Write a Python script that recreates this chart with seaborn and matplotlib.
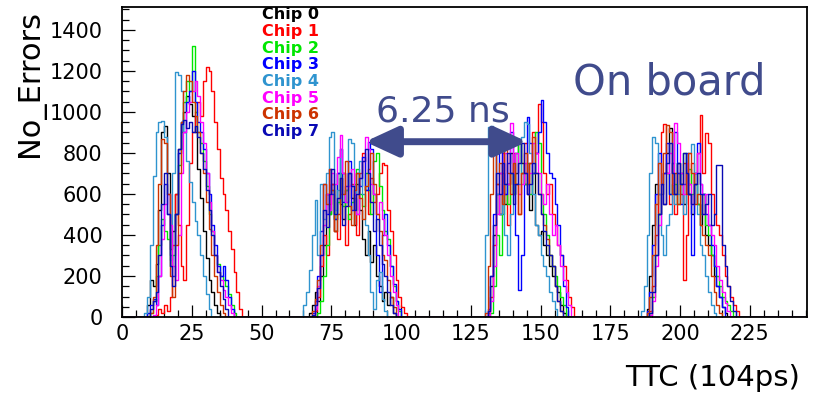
import numpy as np
import pandas as pd
import matplotlib
matplotlib.use("Agg")
import matplotlib.pyplot as plt
import seaborn as sns

# ------------------------------
# Data: error counts per TTC bin (1 bin = 104 ps)
# each chip has 4 peaks; *_start is the first bin of each listed peak
# ------------------------------
chips = ["Chip 0", "Chip 1", "Chip 2", "Chip 3", "Chip 4", "Chip 5", "Chip 6", "Chip 7"]
chip_colors = ["#000000", "#ff0000", "#00e600", "#0000ff", "#2f94cf", "#ff00ff", "#cc3300", "#0a0ab4"]

chip0_start = [9, 67, 131, 188]
chip0_counts = [
    [60, 180, 150, 260, 520, 900, 930, 700, 330, 420, 600, 820, 950, 1000, 1080, 1040, 980, 900, 720, 580, 420, 290, 180, 120, 60, 20, 0],
    [20, 60, 120, 80, 200, 350, 600, 500, 650, 420, 700, 550, 480, 620, 700, 580, 450, 650, 520, 380, 300, 420, 270, 350, 200, 150, 80, 120, 60, 100, 20, 0],
    [30, 150, 400, 600, 500, 700, 550, 650, 800, 600, 700, 850, 750, 650, 600, 520, 700, 450, 400, 420, 350, 300, 250, 200, 150, 120, 60, 20, 0],
    [40, 200, 450, 650, 500, 600, 700, 800, 920, 700, 600, 750, 650, 550, 700, 600, 500, 650, 550, 450, 600, 400, 350, 300, 200, 150, 100, 50, 20, 0],
]
chip1_start = [12, 69, 131, 189]
chip1_counts = [
    [10, 40, 20, 60, 30, 100, 350, 600, 450, 250, 180, 450, 750, 900, 1000, 1050, 980, 1150, 1220, 1200, 1100, 950, 820, 680, 600, 520, 420, 330, 220, 120, 40, 0],
    [30, 100, 250, 400, 300, 550, 650, 420, 380, 600, 700, 350, 500, 650, 580, 400, 700, 800, 620, 500, 680, 560, 600, 700, 750, 740, 520, 420, 300, 180, 100, 50, 20, 0],
    [20, 100, 350, 650, 500, 800, 600, 450, 700, 800, 650, 500, 700, 850, 650, 750, 900, 800, 1040, 950, 700, 600, 650, 500, 450, 350, 300, 250, 180, 100, 50, 0],
    [30, 150, 400, 600, 900, 940, 700, 550, 650, 500, 700, 600, 180, 400, 650, 750, 650, 800, 985, 700, 895, 850, 600, 500, 450, 400, 300, 200, 150, 100, 60, 30, 0],
]
chip2_start = [10, 70, 132, 189]
chip2_counts = [
    [20, 80, 200, 350, 480, 420, 380, 250, 300, 500, 740, 900, 1050, 1150, 1100, 1320, 1000, 900, 850, 760, 640, 500, 420, 300, 260, 200, 180, 150, 110, 60, 20, 0],
    [20, 80, 200, 350, 500, 620, 480, 560, 700, 540, 620, 480, 560, 650, 720, 600, 540, 700, 620, 500, 760, 800, 640, 520, 420, 380, 250, 150, 80, 30, 0],
    [20, 150, 400, 300, 500, 650, 550, 700, 600, 800, 850, 700, 650, 750, 600, 700, 900, 850, 600, 500, 400, 300, 250, 200, 150, 100, 60, 0],
    [20, 100, 300, 500, 650, 550, 700, 600, 750, 650, 550, 700, 800, 650, 720, 600, 700, 550, 500, 600, 450, 400, 300, 250, 200, 150, 100, 80, 60, 30, 0],
]
chip3_start = [9, 68, 131, 188]
chip3_counts = [
    [20, 60, 90, 60, 200, 450, 650, 500, 300, 200, 500, 800, 950, 900, 1050, 1100, 1200, 1050, 950, 900, 820, 700, 600, 450, 350, 250, 200, 250, 180, 100, 40, 0],
    [20, 80, 200, 420, 650, 500, 720, 600, 480, 700, 820, 560, 640, 760, 520, 600, 700, 640, 780, 620, 855, 820, 600, 300, 120, 400, 500, 350, 250, 160, 80, 40, 0],
    [40, 200, 500, 800, 700, 850, 600, 750, 900, 650, 400, 130, 300, 700, 976, 850, 700, 800, 900, 1057, 950, 800, 700, 680, 550, 450, 300, 150, 50, 0],
    [30, 120, 350, 600, 800, 650, 700, 850, 600, 750, 900, 700, 550, 650, 800, 600, 300, 700, 850, 650, 600, 500, 450, 350, 250, 150, 100, 50, 0],
]
chip4_start = [8, 65, 130, 186]
chip4_counts = [
    [20, 100, 350, 690, 900, 950, 955, 880, 600, 280, 700, 1195, 1180, 1100, 900, 760, 660, 560, 470, 400, 300, 200, 110, 40, 0],
    [60, 120, 230, 400, 570, 300, 650, 480, 700, 880, 900, 520, 620, 820, 700, 560, 870, 850, 640, 500, 760, 600, 450, 300, 120, 40, 180, 220, 90, 30, 0],
    [400, 927, 930, 900, 600, 500, 650, 400, 300, 500, 700, 800, 650, 880, 950, 940, 800, 600, 450, 400, 300, 250, 200, 120, 80, 40, 0],
    [30, 150, 400, 700, 880, 850, 600, 400, 300, 450, 500, 650, 550, 600, 700, 500, 650, 800, 846, 700, 500, 350, 300, 200, 120, 60, 20, 0],
]
chip5_start = [11, 69, 131, 189]
chip5_counts = [
    [10, 60, 200, 380, 550, 600, 450, 250, 180, 400, 700, 900, 1000, 1050, 1100, 1150, 1080, 950, 850, 700, 560, 420, 300, 220, 180, 130, 100, 60, 20, 0],
    [40, 150, 300, 450, 600, 520, 700, 650, 780, 886, 700, 560, 640, 720, 600, 500, 680, 760, 880, 820, 650, 600, 500, 560, 480, 400, 300, 200, 120, 60, 0],
    [10, 80, 250, 500, 700, 600, 800, 650, 944, 700, 800, 600, 650, 750, 600, 700, 850, 800, 700, 600, 550, 650, 500, 400, 450, 350, 250, 180, 120, 60, 0],
    [10, 80, 250, 450, 650, 550, 700, 800, 650, 945, 850, 700, 600, 750, 650, 550, 700, 800, 650, 500, 600, 450, 400, 350, 250, 180, 120, 70, 30, 0],
]
chip6_start = [10, 68, 130, 188]
chip6_counts = [
    [20, 100, 350, 650, 870, 850, 600, 200, 100, 350, 700, 950, 1100, 1180, 1150, 1050, 980, 900, 800, 700, 560, 430, 300, 200, 120, 60, 20, 0],
    [30, 90, 180, 350, 650, 550, 720, 620, 420, 500, 680, 600, 760, 540, 450, 620, 700, 580, 480, 640, 720, 800, 650, 500, 420, 300, 280, 180, 100, 50, 0],
    [20, 250, 600, 800, 650, 750, 550, 850, 700, 600, 750, 650, 500, 700, 800, 650, 750, 880, 700, 600, 500, 450, 380, 300, 250, 150, 80, 30, 0],
    [20, 100, 300, 550, 750, 650, 800, 935, 900, 600, 700, 550, 650, 750, 600, 800, 700, 550, 600, 450, 400, 350, 300, 200, 120, 60, 20, 0],
]
chip7_start = [10, 68, 131, 189]
chip7_counts = [
    [40, 80, 120, 300, 550, 700, 500, 250, 150, 500, 820, 940, 960, 920, 950, 900, 930, 880, 800, 720, 620, 520, 400, 300, 220, 150, 90, 40, 0],
    [10, 60, 140, 300, 520, 440, 600, 720, 500, 580, 680, 450, 540, 700, 640, 520, 600, 680, 760, 820, 700, 560, 420, 480, 350, 260, 200, 120, 60, 20, 0],
    [30, 200, 450, 700, 600, 750, 650, 800, 700, 550, 650, 750, 850, 700, 600, 650, 750, 700, 600, 500, 420, 350, 300, 250, 150, 80, 30, 0],
    [20, 120, 300, 500, 650, 550, 750, 850, 700, 600, 750, 650, 800, 700, 600, 550, 650, 700, 600, 500, 550, 600, 450, 500, 740, 740, 350, 250, 150, 80, 30, 0],
]

ttc_bins = np.arange(0, 246)

# arrow: 6.25 ns spacing between peaks
arrow_from = (87.1, 855)
arrow_to = (145.2, 855)
note_color = "#404b8c"


def spread(starts, peaks):
    counts = np.zeros(len(ttc_bins))
    for s, vals in zip(starts, peaks):
        counts[s:s + len(vals)] = vals
    return counts


all_starts = [chip0_start, chip1_start, chip2_start, chip3_start,
              chip4_start, chip5_start, chip6_start, chip7_start]
all_counts = [chip0_counts, chip1_counts, chip2_counts, chip3_counts,
              chip4_counts, chip5_counts, chip6_counts, chip7_counts]

frames = []
for name, s, c in zip(chips, all_starts, all_counts):
    frames.append(pd.DataFrame({"TTC": ttc_bins, "errors": spread(s, c), "chip": name}))
df = pd.concat(frames, ignore_index=True)

# ------------------------------
# Plot
# ------------------------------
sns.set_style("ticks")
plt.rcParams["font.family"] = ["DejaVu Sans"]
plt.rcParams["text.color"] = "black"
plt.rcParams["axes.labelcolor"] = "black"

fig = plt.figure(figsize=(8.14, 3.99), dpi=100)
ax = fig.add_axes([0.150, 0.2055, 0.8414, 0.777])

sns.lineplot(data=df, x="TTC", y="errors", hue="chip", hue_order=chips,
             palette=dict(zip(chips, chip_colors)), estimator=None,
             drawstyle="steps-post", lw=1.0, legend=False, ax=ax)

ax.set_xlim(0, 245.5)
ax.set_ylim(0, 1512)
ax.set_xticks(np.arange(0, 226, 25))
ax.set_xticks(np.arange(0, 246, 5), minor=True)
ax.set_yticks(np.arange(0, 1401, 200))
ax.set_yticks(np.arange(0, 1501, 50), minor=True)
ax.tick_params(which="both", direction="in", top=False, right=False, width=0.9,
               colors="black", labelcolor="black")
ax.tick_params(which="major", length=9, labelsize=15)
ax.tick_params(which="minor", length=5)
ax.tick_params(axis="y", which="major", pad=14)
ax.tick_params(axis="x", which="major", pad=5)
for sp in ax.spines.values():
    sp.set_visible(True)
    sp.set_linewidth(1.3)
    sp.set_color("black")

ax.set_xlabel("")
ax.set_ylabel("")
ax.text(-0.134, 0.99, "No_Errors", rotation=90, ha="center", va="top",
        fontsize=22, color="black", transform=ax.transAxes)
ax.text(0.99, -0.197, "TTC (104ps)", ha="right", va="center",
        fontsize=21, color="black", transform=ax.transAxes)

# legend as coloured labels
for i, (name, col) in enumerate(zip(chips, chip_colors)):
    ax.text(0.204, 0.975 - i * 0.0539, name, color=col, fontsize=11.5,
            fontweight="bold", ha="left", va="center", transform=ax.transAxes)

ax.annotate("", xy=arrow_to, xytext=arrow_from,
            arrowprops=dict(arrowstyle="<|-|>,head_length=1.3,head_width=0.6",
                            mutation_scale=15, lw=5, color=note_color,
                            shrinkA=0, shrinkB=0))
ax.text(115, 952, "6.25 ns", color=note_color, fontsize=26, ha="center", va="baseline")
ax.text(196, 1083, "On board", color=note_color, fontsize=30, ha="center", va="baseline")

fig.savefig("out.png", dpi=100)
plt.close(fig)
